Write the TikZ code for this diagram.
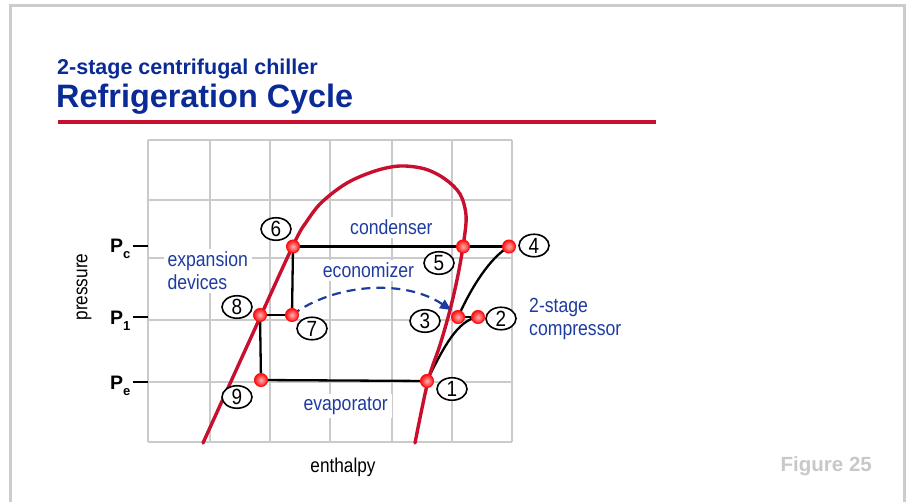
\documentclass[tikz,border=0pt]{standalone}
\usepackage{fontspec}
\setmainfont{Liberation Sans}
\newfontfamily\narrowfont[FakeStretch=0.86]{Liberation Sans}
\usetikzlibrary{arrows.meta,shapes.geometric}
\definecolor{titleblue}{HTML}{0A2A96}
\definecolor{lblblue}{HTML}{1E3CA0}
\definecolor{crimson}{HTML}{C8102E}
\definecolor{gridgray}{HTML}{CACACA}
\definecolor{framegray}{HTML}{CCCCCC}
\definecolor{figgray}{HTML}{C8C8C8}
\definecolor{dotred}{HTML}{FF1010}
\tikzset{
  gridline/.style={draw=gridgray, line width=2.2pt},
  dome/.style={draw=crimson, line width=3.4pt, line cap=round},
  proc/.style={draw=black, line width=2.3pt},
  dot/.style={circle, minimum size=13pt, inner sep=0pt, draw=dotred, line width=1pt, shading=radial, inner color=red!30!white, outer color=dotred},
  num/.style={ellipse, draw=black, line width=1.6pt, fill=white, minimum width=30pt, minimum height=22.5pt, inner sep=0pt, font=\narrowfont\fontsize{22}{22}\selectfont},
  lbl/.style={anchor=base west, text=lblblue, font=\narrowfont\fontsize{20.5}{22}\selectfont, inner xsep=4pt, inner ysep=3pt},
  lblw/.style={lbl, fill=white},
  plabel/.style={anchor=base west, inner sep=0pt, font=\bfseries\fontsize{19.5}{20}\selectfont},
  econ/.style={draw=lblblue, line width=2.2pt, dash pattern=on 9pt off 6pt, -{Triangle[length=11pt,width=10pt]}},
}
\begin{document}
\begin{tikzpicture}[x=1pt,y=-1pt]
\useasboundingbox (0,0) rectangle (909,502);
% frame
\draw[framegray, line width=3pt] (10.5,520) -- (10.5,5.5) -- (904.5,5.5) -- (904.5,520);
% titles
\node[anchor=base west, inner sep=0pt, text=titleblue, font=\bfseries\fontsize{21.5}{24}\selectfont] (sub) at (57,75) {2-stage centrifugal chiller};
\node[anchor=base west, inner sep=0pt, text=titleblue, font=\bfseries\fontsize{32.4}{36}\selectfont] (title) at (56,108) {Refrigeration Cycle};
\draw[crimson, line width=4pt] (58,122.5) -- (656,122.5);
% grid
\foreach \x in {148,210,270,330,392,452,512} \draw[gridline] (\x,140) -- (\x,442);
\foreach \y in {140,200,258,320,382,442} \draw[gridline] (148,\y) -- (512,\y);
% pressure ticks and labels
\foreach \y in {246,317,382} \draw[black, line width=2.3pt] (133,\y) -- (148,\y);
\node[plabel] (pc) at (110,253) {P\raisebox{-5.5pt}{\fontsize{13}{13}\selectfont c}};
\node[plabel] (p1) at (110,324) {P\raisebox{-6pt}{\fontsize{13}{13}\selectfont 1}};
\node[plabel] (pe) at (110,389) {P\raisebox{-6pt}{\fontsize{13}{13}\selectfont e}};
\node[rotate=90, font=\narrowfont\fontsize{20}{22}\selectfont] (plab) at (84,287) {pressure};
\node[font=\narrowfont\fontsize{20}{22}\selectfont] (hlab) at (343,467) {enthalpy};
% region labels
\node[lblw] (cond) at (346,235) {condenser};
\node[lblw] (eco) at (318.7,278) {economizer};
\node[lblw] (exp1) at (163.3,267) {expansion};
\node[lblw] (exp2) at (163.3,290) {devices};
\node[lblw] (evap) at (299.3,410.7) {evaporator};
\node[lbl] (cmp1) at (525,312.7) {2-stage};
\node[lbl] (cmp2) at (525,335) {compressor};
\node[anchor=base west, inner sep=0pt, text=figgray, font=\bfseries\fontsize{20.5}{22}\selectfont] (fig) at (780.5,471.7) {Figure 25};
% state points
\coordinate (c6) at (293,246.5);
\coordinate (c5) at (463,246.5);
\coordinate (c4) at (509,246.5);
\coordinate (c8) at (260,315);
\coordinate (c7) at (292,315);
\coordinate (c3) at (458,317);
\coordinate (c2) at (478,317);
\coordinate (c9) at (261,380);
\coordinate (c1) at (427,381);
\coordinate (einlet) at (451,310);
% process lines
\draw[proc] (c6) -- (c4);
\draw[proc] (c6) -- (c7);
\draw[proc] (c8) -- (c7);
\draw[proc] (c8) -- (c9);
\draw[proc] (c9) -- (c1);
\draw[proc] (c1) .. controls (444,346) and (458,320) .. (c2);
\draw[proc] (c3) -- (c2);
\draw[proc] (c3) .. controls (472,286) and (490,258) .. (c4);
% saturation dome
\draw[dome] plot[smooth, tension=0.55] coordinates {(203,443) (248,344) (293,245.5) (307,221) (322,202) (347,183) (375,171) (400,166) (425,169) (445,179) (460,194) (466,215) (464,240) (458,275) (450,310) (440,345) (428,381) (415,443)};
% economizer flash gas
\draw[econ] (c7) .. controls (335,283) and (405,279) .. (einlet);
% dots
\foreach \n in {1,...,9} \node[dot] (d\n) at (c\n) {};
% number labels
\node[num] (n6) at (276,229) {6};
\node[num] (n5) at (439,263) {5};
\node[num] (n4) at (534,245.5) {4};
\node[num] (n8) at (237,307) {8};
\node[num] (n7) at (312,328.5) {7};
\node[num] (n3) at (425,321) {3};
\node[num] (n2) at (501,318.5) {2};
\node[num] (n9) at (237,397) {9};
\node[num] (n1) at (452,389) {1};
\end{tikzpicture}
\end{document}
